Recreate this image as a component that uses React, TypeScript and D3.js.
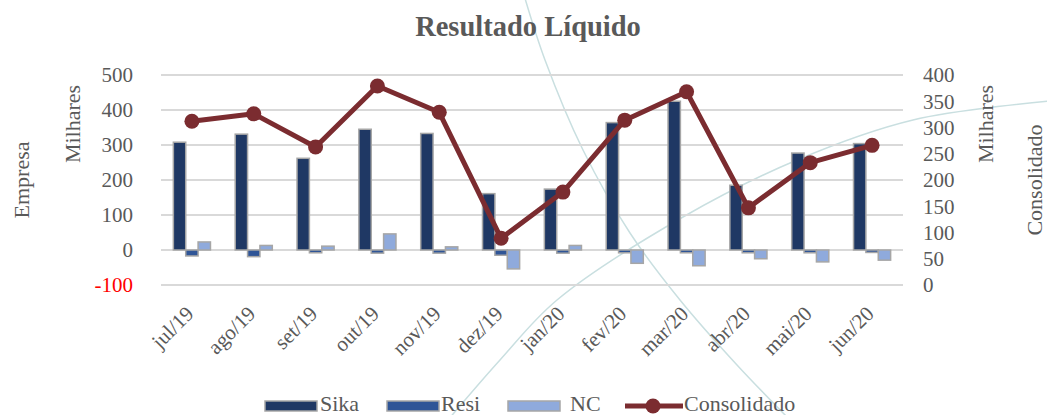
import React from "react";
import * as d3 from "d3";

const categories = ["jul/19","ago/19","set/19","out/19","nov/19","dez/19","jan/20","fev/20","mar/20","abr/20","mai/20","jun/20"];
const sika = [308, 331, 262, 345, 333, 161, 174, 364, 425, 185, 277, 304];
const resi = [-17, -19, -8, -9, -9, -15, -9, -8, -8, -8, -8, -7];
const nc = [23, 13, 11, 46, 9, -54, 13, -38, -45, -25, -34, -29];
const consolidado = [312, 326, 263, 379, 329, 89, 177, 314, 368, 147, 233, 266];
const leftTicks = [-100, 0, 100, 200, 300, 400, 500];
const rightTicks = [0, 50, 100, 150, 200, 250, 300, 350, 400];
const seriesNames = ["Sika", "Resi", "NC"];
const seriesColors = ["#1f3864", "#2f5597", "#8faadc"];
const lineColor = "#7b2c30";

const W = 1047, H = 415;
const FONT = "'Liberation Serif', 'DejaVu Serif', serif";
const TXT = "#595959";

export default function App() {
  const x = d3.scaleBand<string>().domain(categories).range([161, 903]).paddingInner(0.4).paddingOuter(0.2);
  const x1 = d3.scaleBand<string>().domain(seriesNames).range([0, x.bandwidth()]);
  const yL = d3.scaleLinear().domain([-100, 500]).range([285, 75]);
  const yR = d3.scaleLinear().domain([0, 400]).range([285, 75]);
  const seriesData = [sika, resi, nc];
  const cx = (c: string) => (x(c) as number) + x.bandwidth() / 2;
  const linePath = d3.line<number>().x((_, i) => cx(categories[i])).y(v => yR(v))(consolidado) as string;
  const curve = d3.line<[number, number]>().curve(d3.curveCatmullRom);
  const deco1: [number, number][] = [[524, -5], [545, 60], [583, 150], [630, 233], [680, 300], [737, 365], [790, 420]];
  const deco2: [number, number][] = [[448, 420], [500, 360], [557, 300], [683, 217], [797, 160], [913, 120], [1050, 101]];

  const legendItems = [
    { name: "Sika", sx: 265, tx: 320, color: seriesColors[0] },
    { name: "Resi", sx: 387, tx: 441, color: seriesColors[1] },
    { name: "NC", sx: 508, tx: 570, color: seriesColors[2] },
  ];

  return (
    <svg width={W} height={H} style={{ position: "absolute", left: 0, top: 0, background: "#fff" }} fontFamily={FONT}>
      <rect x={0} y={0} width={W} height={H} fill="#fff" />
      <path d={curve(deco1) as string} fill="none" stroke="#c9dfe0" strokeWidth={1.5} />
      <path d={curve(deco2) as string} fill="none" stroke="#c9dfe0" strokeWidth={1.5} />
      <text x={528} y={36} textAnchor="middle" fontSize={28.5} fontWeight="bold" fill={TXT}>Resultado Líquido</text>

      {leftTicks.map(t => (
        <line key={"g" + t} x1={161} x2={903} y1={yL(t)} y2={yL(t)} stroke="#d9d9d9" strokeWidth={2} />
      ))}
      {leftTicks.map(t => (
        <text key={"l" + t} x={133} y={yL(t)} dy="0.35em" textAnchor="end" fontSize={21} fill={t < 0 ? "#ff0000" : TXT}>{t}</text>
      ))}
      {rightTicks.map(t => (
        <text key={"r" + t} x={923} y={yR(t)} dy="0.35em" textAnchor="start" fontSize={21} fill={TXT}>{t}</text>
      ))}

      <text transform="translate(29,180) rotate(-90)" textAnchor="middle" fontSize={22} fill={TXT}>Empresa</text>
      <text transform="translate(80,124) rotate(-90)" textAnchor="middle" fontSize={22} fill={TXT}>Milhares</text>
      <text transform="translate(993,124) rotate(-90)" textAnchor="middle" fontSize={22} fill={TXT}>Milhares</text>
      <text transform="translate(1042,180) rotate(-90)" textAnchor="middle" fontSize={22} fill={TXT}>Consolidado</text>

      {categories.map((c, i) => (
        <g key={"b" + c} transform={`translate(${x(c)},0)`}>
          {seriesData.map((s, k) => {
            const v = s[i];
            const y0 = yL(0), y1 = yL(v);
            return (
              <rect key={k} x={x1(seriesNames[k]) as number} width={x1.bandwidth()} y={Math.min(y0, y1)} height={Math.abs(y1 - y0)}
                fill={seriesColors[k]} stroke="#a6a6a6" strokeWidth={1.5} />
            );
          })}
        </g>
      ))}

      <path d={linePath} fill="none" stroke={lineColor} strokeWidth={5} strokeLinejoin="round" />
      {consolidado.map((v, i) => (
        <circle key={"m" + i} cx={cx(categories[i])} cy={yR(v)} r={7.5} fill={lineColor} />
      ))}

      {categories.map(c => (
        <text key={"x" + c} transform={`translate(${cx(c) + 3},${315}) rotate(-45)`} textAnchor="end" fontSize={21} fill={TXT}>{c}</text>
      ))}

      {legendItems.map(it => (
        <g key={it.name}>
          <rect x={it.sx} y={401} width={52} height={10} fill={it.color} stroke="#a6a6a6" strokeWidth={1.5} />
          <text x={it.tx} y={411} fontSize={22} fill={TXT}>{it.name}</text>
        </g>
      ))}
      <line x1={625} x2={683} y1={406} y2={406} stroke={lineColor} strokeWidth={5} />
      <circle cx={653} cy={406} r={7.5} fill={lineColor} />
      <text x={684} y={411} fontSize={22} fill={TXT}>Consolidado</text>
    </svg>
  );
}
